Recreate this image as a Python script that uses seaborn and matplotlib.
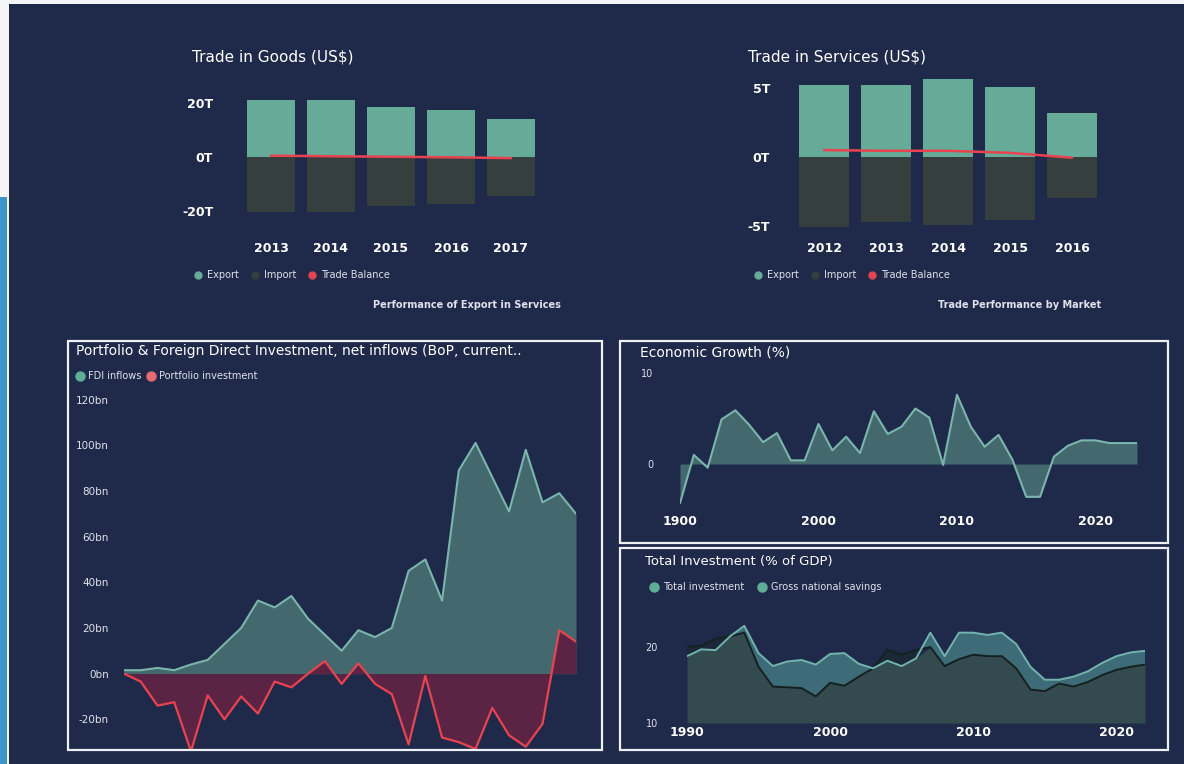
import numpy as np
import pandas as pd
import matplotlib.pyplot as plt
import seaborn as sns
from matplotlib.patches import Rectangle
from matplotlib.lines import Line2D
from matplotlib.ticker import FuncFormatter

# =========================
# DATA
# =========================
goods_years = ["2013", "2014", "2015", "2016", "2017"]
goods_export = [21.0, 21.0, 18.5, 17.5, 14.0]
goods_import = [-20.5, -20.5, -18.0, -17.5, -14.5]
goods_balance = [0.5, 0.3, 0.1, -0.1, -0.4]

serv_years = ["2012", "2013", "2014", "2015", "2016"]
serv_export = [5.2, 5.2, 5.65, 5.05, 3.2]
serv_import = [-5.1, -4.7, -4.95, -4.55, -3.0]
serv_balance = [0.5, 0.45, 0.45, 0.3, -0.05]

fdi_years = list(range(1995, 2023))
fdi_inflows = [1.5, 1.5, 2.5, 1.5, 4, 6, 13, 20, 32, 29, 34, 24, 17, 10,
               19, 16, 20, 45, 50, 32, 89, 101, 86, 71, 98, 75, 79, 70]
portfolio_inv = [0, -3.5, -14, -12.5, -34, -9.5, -20, -10, -17.5, -3.5, -6, 0, 5.5, -4.5,
                 4.5, -4.5, -9, -31, -1, -28, -30, -33, -15, -27, -32, -22, 19, 14]

growth_years = list(range(1990, 2024))
growth_pct = [-4.3, 1.0, -0.4, 4.9, 5.9, 4.3, 2.4, 3.4, 0.4, 0.4,
              4.4, 1.5, 3.0, 1.2, 5.8, 3.3, 4.1, 6.1, 5.1, -0.1,
              7.6, 4.1, 1.9, 3.2, 0.5, -3.6, -3.6, 0.8, 2.0, 2.6,
              2.6, 2.3, 2.3, 2.3]
growth_tick_years = [1990, 2000, 2010, 2020]
growth_tick_labels = ["1900", "2000", "2010", "2020"]

inv_years = list(range(1990, 2023))
total_inv = [18.8, 19.7, 19.6, 21.4, 22.8, 19.2, 17.5, 18.1, 18.3, 17.7,
             19.1, 19.2, 17.8, 17.2, 18.2, 17.5, 18.5, 21.9, 18.8, 21.9,
             21.9, 21.6, 21.9, 20.4, 17.4, 15.7, 15.7, 16.1, 16.8, 17.9,
             18.8, 19.3, 19.5]
gross_savings = [20.0, 20.2, 21.1, 21.4, 21.9, 17.4, 14.8, 14.7, 14.6, 13.5,
                 15.3, 14.9, 16.1, 17.2, 19.6, 19.0, 19.6, 20.0, 17.5, 18.4,
                 19.0, 18.8, 18.8, 17.2, 14.4, 14.2, 15.2, 14.8, 15.4, 16.3,
                 17.0, 17.4, 17.7]

# =========================
# STYLE
# =========================
W, H = 1184, 764
NAVY = "#1f2a4b"
EXPORT = "#65ab98"
IMPORT = "#353f3e"
RED = "#e8434f"
TEAL_FILL = "#43686e"
TEAL_LINE = "#7bb6ad"
TXT = "#dfe2ea"

sns.set_style("dark", {"axes.facecolor": "none", "figure.facecolor": NAVY})
plt.rcParams["font.family"] = ["DejaVu Sans"]


def box(x0, y0, x1, y1):
    # pixel box -> figure fraction
    return [x0 / W, 1 - y1 / H, (x1 - x0) / W, (y1 - y0) / H]


def clean(ax):
    for s in ax.spines.values():
        s.set_visible(False)
    ax.grid(False)
    ax.set_xlabel("")
    ax.set_ylabel("")


def legend(fig, x, y, items, size=7, ms=5, pad=0.52, cs=1.25):
    # x = centre of first dot (px)
    fs = size * 100 / 72
    handles = [Line2D([], [], marker="o", linestyle="", color=c, markersize=ms) for _, c in items]
    fig.legend(handles, [t for t, _ in items], loc="center left",
               bbox_to_anchor=((x - 0.4 * fs) / W, 1 - y / H), ncol=len(items), frameon=False,
               borderaxespad=0, borderpad=0, handletextpad=pad, columnspacing=cs,
               handlelength=0.8, prop={"size": size}, labelcolor=TXT)


def rect(fig, x0, y0, x1, y1, **kw):
    fig.add_artist(Rectangle((x0 / W, 1 - y1 / H), (x1 - x0) / W, (y1 - y0) / H,
                             transform=fig.transFigure, **kw))


fig = plt.figure(figsize=(W / 100, H / 100), dpi=100)
fig.patch.set_facecolor(NAVY)

# edge strips
rect(fig, 0, 0, W, 4, color="#f4f5f7", lw=0)
rect(fig, 0, 0, 9, H, color="#f4f5f7", lw=0)
rect(fig, 0, 197, 7, H, color="#3d96c9", lw=0)

# =========================
# TRADE IN GOODS
# =========================
ax = fig.add_axes(box(241, 95, 541, 232))
sns.barplot(x=goods_years, y=goods_export, color=EXPORT, saturation=1, width=0.8,
            linewidth=0, edgecolor="none", ax=ax)
sns.barplot(x=goods_years, y=goods_import, color=IMPORT, saturation=1, width=0.8,
            linewidth=0, edgecolor="none", ax=ax)
sns.lineplot(x=np.arange(len(goods_years)), y=goods_balance, color=RED, linewidth=1.8, ax=ax)
ax.set_xlim(-0.5, 4.5)
ax.set_ylim(-27.8, 23.0)
ax.set_yticks([-20, 0, 20])
ax.yaxis.set_major_formatter(FuncFormatter(lambda v, p: f"{v:.0f}T"))
ax.tick_params(axis="y", length=0, pad=20, labelsize=9, labelcolor="white")
ax.tick_params(axis="x", length=0, pad=7, labelsize=9, labelcolor="white")
for lab in ax.get_xticklabels() + ax.get_yticklabels():
    lab.set_fontweight("bold")
clean(ax)
fig.text(192 / W, 1 - 57 / H, "Trade in Goods (US$)", color="white", fontsize=11, va="center")
legend(fig, 198, 275, [("Export", EXPORT), ("Import", IMPORT), ("Trade Balance", RED)])
fig.text(467 / W, 1 - 305 / H, "Performance of Export in Services", color=TXT, fontsize=7,
         weight="bold", ha="center", va="center")

# =========================
# TRADE IN SERVICES
# =========================
ax = fig.add_axes(box(793, 75, 1103, 235))
sns.barplot(x=serv_years, y=serv_export, color=EXPORT, saturation=1, width=0.8,
            linewidth=0, edgecolor="none", ax=ax)
sns.barplot(x=serv_years, y=serv_import, color=IMPORT, saturation=1, width=0.8,
            linewidth=0, edgecolor="none", ax=ax)
sns.lineplot(x=np.arange(len(serv_years)), y=serv_balance, color=RED, linewidth=1.8, ax=ax)
ax.set_xlim(-0.5, 4.5)
ax.set_ylim(-5.65, 5.94)
ax.set_yticks([-5, 0, 5])
ax.yaxis.set_major_formatter(FuncFormatter(lambda v, p: f"{v:.0f}T"))
ax.tick_params(axis="y", length=0, pad=16.5, labelsize=9, labelcolor="white")
ax.tick_params(axis="x", length=0, pad=5, labelsize=9, labelcolor="white")
for lab in ax.get_xticklabels() + ax.get_yticklabels():
    lab.set_fontweight("bold")
clean(ax)
fig.text(748 / W, 1 - 57 / H, "Trade in Services (US$)", color="white", fontsize=11, va="center")
legend(fig, 758, 275, [("Export", EXPORT), ("Import", IMPORT), ("Trade Balance", RED)])
fig.text(1020 / W, 1 - 305 / H, "Trade Performance by Market", color=TXT, fontsize=7,
         weight="bold", ha="center", va="center")

# =========================
# FDI / PORTFOLIO
# =========================
ax = fig.add_axes(box(124, 395, 576, 749))
ax.fill_between(fdi_years, 0, fdi_inflows, color=TEAL_FILL, lw=0)
sns.lineplot(x=fdi_years, y=fdi_inflows, color=TEAL_LINE, linewidth=1.5, ax=ax)
ax.fill_between(fdi_years, 0, portfolio_inv, color="#5c2444", lw=0)
sns.lineplot(x=fdi_years, y=portfolio_inv, color=RED, linewidth=1.6, ax=ax)
ax.set_xlim(fdi_years[0], fdi_years[-1])
ax.set_ylim(-33, 122)
ax.set_yticks(range(-20, 121, 20))
ax.yaxis.set_major_formatter(FuncFormatter(lambda v, p: f"{v:.0f}bn"))
ax.set_xticks([])
ax.tick_params(axis="y", length=0, pad=11, labelsize=7.5, labelcolor=TXT)
clean(ax)
rect(fig, 68, 341, 602, 750, fill=False, edgecolor="#eef0f4", lw=1.6)
fig.text(76 / W, 1 - 351 / H, "Portfolio & Foreign Direct Investment, net inflows (BoP, current..",
         color="white", fontsize=10, va="center")
legend(fig, 80, 376, [("FDI inflows", "#5fae98"), ("Portfolio investment", "#e86a70")],
       ms=6.5, pad=0.42, cs=0.55)

# =========================
# ECONOMIC GROWTH
# =========================
ax = fig.add_axes(box(680, 373, 1137, 510))
ax.fill_between(growth_years, 0, growth_pct, color=TEAL_FILL, lw=0)
sns.lineplot(x=growth_years, y=growth_pct, color=TEAL_LINE, linewidth=1.5, ax=ax)
ax.set_xlim(growth_years[0], growth_years[-1])
ax.set_ylim(-5.05, 10)
ax.set_yticks([0, 10])
ax.set_xticks(growth_tick_years)
ax.set_xticklabels(growth_tick_labels)
ax.tick_params(axis="y", length=0, pad=19, labelsize=7, labelcolor=TXT)
ax.tick_params(axis="x", length=0, pad=3.5, labelsize=9, labelcolor="white")
for lab in ax.get_xticklabels():
    lab.set_fontweight("bold")
clean(ax)
rect(fig, 620, 341, 1168, 543, fill=False, edgecolor="#eef0f4", lw=1.6)
fig.text(640 / W, 1 - 352 / H, "Economic Growth (%)", color="white", fontsize=10, va="center")

# =========================
# TOTAL INVESTMENT
# =========================
ax = fig.add_axes(box(687, 600, 1145, 723))
inv = np.array(total_inv)
sav = np.array(gross_savings)
low = np.minimum(inv, sav)
ax.fill_between(inv_years, 10, low, color="#334b4f", lw=0)
ax.fill_between(inv_years, sav, inv, where=inv >= sav, interpolate=True, color="#3e6b78", lw=0)
ax.fill_between(inv_years, inv, sav, where=sav >= inv, interpolate=True, color="#1b2838", lw=0)
sns.lineplot(x=inv_years, y=gross_savings, color="#15211f", linewidth=1.4, ax=ax)
sns.lineplot(x=inv_years, y=total_inv, color="#72b3ad", linewidth=1.4, ax=ax)
ax.set_xlim(inv_years[0], inv_years[-1])
ax.set_ylim(10, 26.2)
ax.set_yticks([10, 20])
ax.set_xticks([1990, 2000, 2010, 2020])
ax.tick_params(axis="y", length=0, pad=21, labelsize=7, labelcolor=TXT)
ax.tick_params(axis="x", length=0, pad=2, labelsize=9, labelcolor="white")
for lab in ax.get_xticklabels():
    lab.set_fontweight("bold")
clean(ax)
rect(fig, 620, 548, 1168, 750, fill=False, edgecolor="#eef0f4", lw=1.6)
fig.text(645 / W, 1 - 562 / H, "Total Investment (% of GDP)", color="white", fontsize=9.5, va="center")
legend(fig, 654, 587, [("Total investment", "#5fae98"), ("Gross national savings", "#5fae98")],
       ms=6.5, pad=0.53, cs=1.45)

fig.savefig("out.png", dpi=100, facecolor=NAVY)
